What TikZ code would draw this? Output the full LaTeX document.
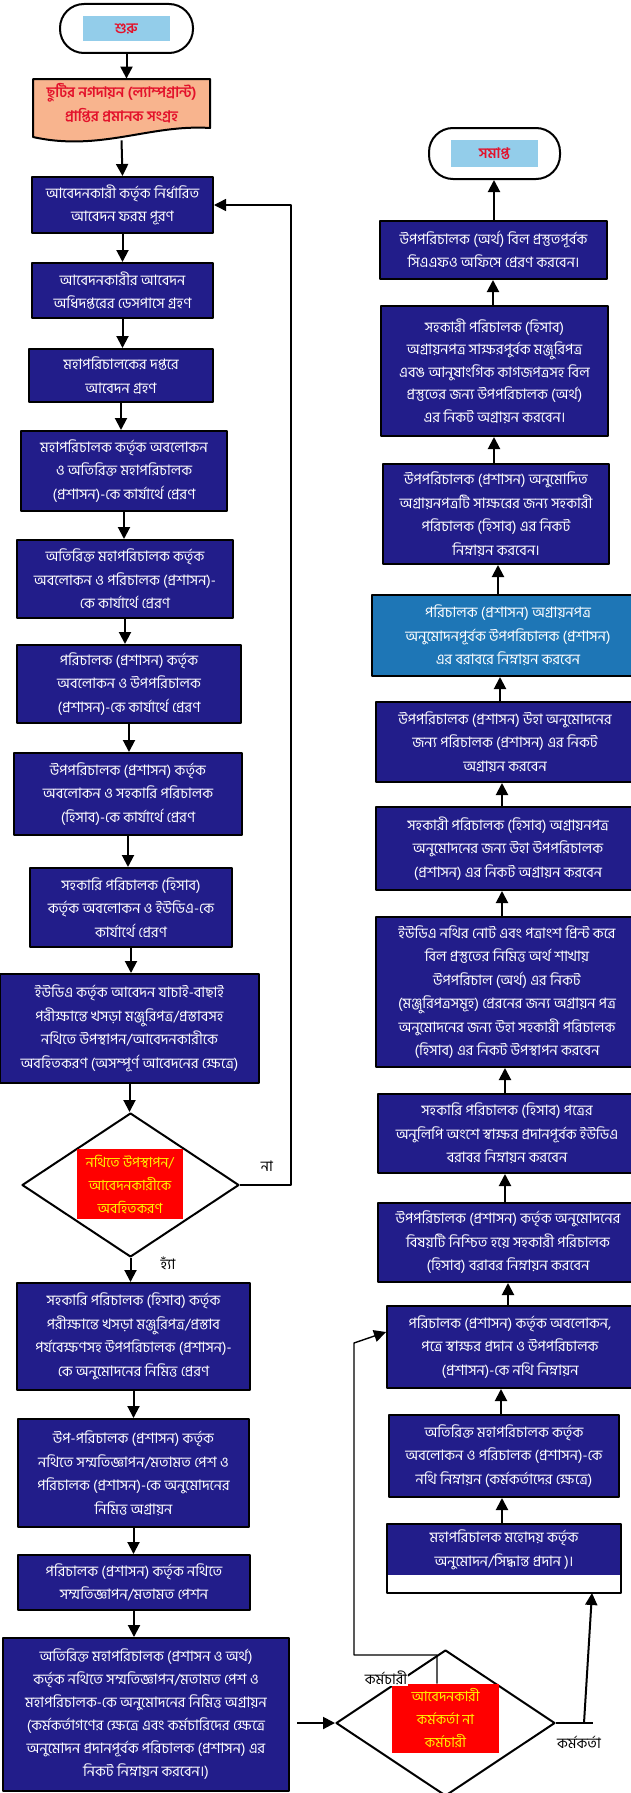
\documentclass[tikz,border=0pt]{standalone}
\usepackage{fontspec}
\newfontfamily\bn[Script=Bengali]{Hind Siliguri}
\usetikzlibrary{arrows.meta,shapes.geometric}
\definecolor{boxblue}{HTML}{221D8A}
\definecolor{steelbox}{HTML}{1E76B6}
\definecolor{skyfill}{HTML}{93CDEA}
\definecolor{docfill}{HTML}{F8B48E}
\definecolor{redtext}{HTML}{E3122B}
\definecolor{yeltext}{HTML}{FFF200}
\begin{document}
\begin{tikzpicture}[x=1pt,y=-1pt,line join=round,>={Triangle[length=12pt,width=12pt]},thick]
	\tikzset{every node/.style={font=\bn\fontsize{14.5}{23.5}\selectfont,align=center,inner sep=2pt},
		blk/.style={draw,line width=2pt,fill=boxblue,text=white},
		term/.style={draw,line width=2pt,rounded corners=24pt,fill=white},
		lbl/.style={fill=skyfill,text=redtext,font=\bn\bfseries\fontsize{14.5}{16}\selectfont},
		dec/.style={draw,line width=2pt,diamond,fill=white,inner sep=0pt},
		declbl/.style={fill=red,text=yeltext,inner sep=1pt,font=\bn\fontsize{14}{23}\selectfont},
		flow/.style={->,line width=2pt}}
	\useasboundingbox (0,0) rectangle (631,1793);
	\clip (0,0) rectangle (631,1793);
	\fill[white] (0,0) rectangle (631,1793);
	% left column
	\node[term,minimum width=133pt,minimum height=49pt] (start) at (126.5,28.5) {};
	\node[lbl,minimum width=87pt,minimum height=25pt] (startlbl) at (start) {শুরু};
	\draw[line width=2pt,fill=docfill] (33,79) -- (210,79) -- (210,128) .. controls (150,124) and (100,152) .. (33,137) -- cycle;
	\node[text=redtext,font=\bn\bfseries\fontsize{14.5}{23.5}\selectfont,minimum width=177pt,minimum height=48pt] (doc) at (121.5,103) {ছুটির নগদায়ন (ল্যাম্পগ্রান্ট)\\প্রাপ্তির প্রমানক সংগ্রহ};
	\node[blk,minimum width=181pt,minimum height=56pt] (box1) at (122.5,205) {আবেদনকারী কর্তৃক নির্ধারিত\\আবেদন ফরম পূরণ};
	\node[blk,minimum width=181pt,minimum height=55pt] (box2) at (122.5,290.5) {আবেদনকারীর আবেদন\\অধিদপ্তরের ডেসপাসে গ্রহণ};
	\node[blk,minimum width=184pt,minimum height=53pt] (box3) at (121,375.5) {মহাপরিচালকের দপ্তরে\\আবেদন গ্রহণ};
	\node[blk,minimum width=206pt,minimum height=80pt] (box4) at (124,471) {মহাপরিচালক কর্তৃক অবলোকন\\ও অতিরিক্ত মহাপরিচালক\\(প্রশাসন)-কে কার্যার্থে প্রেরণ};
	\node[blk,minimum width=216pt,minimum height=78pt] (box5) at (125,579) {অতিরিক্ত মহাপরিচালক কর্তৃক\\অবলোকন ও পরিচালক (প্রশাসন)-\\কে কার্যার্থে প্রেরণ};
	\node[blk,minimum width=224pt,minimum height=78pt] (box6) at (129,684) {পরিচালক (প্রশাসন) কর্তৃক\\অবলোকন ও উপপরিচালক\\(প্রশাসন)-কে কার্যার্থে প্রেরণ};
	\node[blk,minimum width=228pt,minimum height=82pt] (box7) at (128,794) {উপপরিচালক (প্রশাসন) কর্তৃক\\অবলোকন ও সহকারি পরিচালক\\(হিসাব)-কে কার্যার্থে প্রেরণ};
	\node[blk,minimum width=202pt,minimum height=79pt] (box8) at (131,907.5) {সহকারি পরিচালক (হিসাব)\\কর্তৃক অবলোকন ও ইউডিএ-কে\\কার্যার্থে প্রেরণ};
	\node[blk,minimum width=259pt,minimum height=109pt] (box9) at (129.5,1028.5) {ইউডিএ কর্তৃক আবেদন যাচাই-বাছাই\\পরীক্ষান্তে খসড়া মঞ্জুরিপত্র/প্রস্তাবসহ\\নথিতে উপস্থাপন/আবেদনকারীকে\\অবহিতকরণ (অসম্পূর্ণ আবেদনের ক্ষেত্রে)};
	\node[dec,minimum width=217pt,minimum height=144pt] (dec1) at (130.5,1185) {};
	\node[declbl,minimum width=106pt,minimum height=70pt] (dec1lbl) at (130,1184) {নথিতে উপস্থাপন/\\আবেদনকারীকে\\অবহিতকরণ};
	\node (no) at (267,1166) {না};
	\node (yes) at (168,1263) {হ্যাঁ};
	\node[blk,minimum width=233pt,minimum height=107pt] (box10) at (133.5,1336.5) {সহকারি পরিচালক (হিসাব) কর্তৃক\\পরীক্ষান্তে খসড়া মঞ্জুরিপত্র/প্রস্তাব\\পর্যবেক্ষণসহ উপপরিচালক (প্রশাসন)-\\কে অনুমোদনের নিমিত্ত  প্রেরণ};
	\node[blk,minimum width=231pt,minimum height=108pt] (box11) at (133.5,1473) {উপ-পরিচালক (প্রশাসন) কর্তৃক\\নথিতে সম্মতিজ্ঞাপন/মতামত পেশ ও\\পরিচালক (প্রশাসন)-কে অনুমোদনের\\নিমিত্ত অগ্রায়ন};
	\node[blk,minimum width=232pt,minimum height=55pt] (box12) at (134,1582.5) {পরিচালক (প্রশাসন) কর্তৃক নথিতে\\সম্মতিজ্ঞাপন/মতামত পেশন};
	\node[blk,minimum width=286pt,minimum height=153pt,font=\bn\fontsize{14.5}{23}\selectfont] (box13) at (146,1714.5) {অতিরিক্ত মহাপরিচালক (প্রশাসন ও অর্থ)\\কর্তৃক নথিতে সম্মতিজ্ঞাপন/মতামত পেশ ও\\মহাপরিচালক-কে অনুমোদনের নিমিত্ত অগ্রায়ন\\(কর্মকর্তাগণের ক্ষেত্রে এবং কর্মচারিদের ক্ষেত্রে\\অনুমোদন প্রদানপূর্বক পরিচালক (প্রশাসন) এর\\নিকট নিম্নায়ন করবেন।)};
	\draw[flow] (start.south) -- (start.south |- doc.north);
	\draw[flow] ([yshift=-13pt]doc.south) -- (box1.north);
	\foreach \a/\b in {box1/box2,box2/box3,box3/box4,box4/box5,box5/box6,box6/box7,box7/box8,box8/box9,box9/dec1,dec1/box10,box10/box11,box11/box12,box12/box13}
	\draw[flow] (\a.south) -- (\a.south |- \b.north);
	\draw[->,line width=1.4pt] (dec1.east) -- ++(51,0) |- (box1.east);
	% right column
	\node[term,minimum width=131pt,minimum height=51pt] (end) at (494.5,153.5) {};
	\node[lbl,minimum width=87pt,minimum height=27pt] (endlbl) at (end) {সমাপ্ত};
	\node[blk,minimum width=227pt,minimum height=58pt] (R1) at (493.5,250) {উপপরিচালক (অর্থ) বিল প্রস্তুতপূর্বক\\সিএএফও অফিসে প্রেরণ করবেন।};
	\node[blk,minimum width=227pt,minimum height=130pt,font=\bn\fontsize{14.5}{22.5}\selectfont] (R2) at (494.5,371) {সহকারী পরিচালক (হিসাব)\\অগ্রায়নপত্র সাক্ষরপুর্বক মঞ্জুরিপত্র\\এবঙ আনুষাংগিক কাগজপত্রসহ বিল\\প্রস্তুতের জন্য উপপরিচালক (অর্থ)\\এর নিকট অগ্রায়ন করবেন।};
	\node[blk,minimum width=226pt,minimum height=100pt] (R3) at (496,514) {উপপরিচালক (প্রশাসন) অনুমোদিত\\অগ্রায়নপত্রটি সাক্ষরের জন্য সহকারী\\পরিচালক (হিসাব) এর নিকট\\নিম্নায়ন করবেন।};
	\node[blk,fill=steelbox,anchor=west,minimum width=272pt,minimum height=81pt] (R4) at (371,635.5) {পরিচালক (প্রশাসন) অগ্রায়নপত্র\\অনুমোদনপূর্বক উপপরিচালক (প্রশাসন)\\এর বরাবরে নিম্নায়ন করবেন};
	\node[blk,anchor=west,minimum width=258pt,minimum height=80pt] (R5) at (375,742) {উপপরিচালক (প্রশাসন) উহা অনুমোদনের\\জন্য পরিচালক (প্রশাসন) এর নিকট\\অগ্রায়ন করবেন};
	\node[blk,anchor=west,minimum width=264pt,minimum height=83pt] (R6) at (375,848.5) {সহকারী পরিচালক (হিসাব) অগ্রায়নপত্র\\অনুমোদনের জন্য উহা উপপরিচালক\\(প্রশাসন) এর নিকট অগ্রায়ন করবেন};
	\node[blk,anchor=west,minimum width=262pt,minimum height=150pt] (R7) at (375,992) {ইউডিএ নথির নোট এবং পত্রাংশ প্রিন্ট করে\\বিল প্রস্তুতের নিমিত্ত অর্থ শাখায়\\উপপরিচাল (অর্থ) এর নিকট\\(মঞ্জুরিপত্রসমূহ) প্রেরনের জন্য অগ্রায়ন পত্র\\অনুমোদনের জন্য উহা সহকারী পরিচালক\\(হিসাব) এর নিকট উপস্থাপন করবেন};
	\node[blk,anchor=west,minimum width=258pt,minimum height=79pt] (R8) at (377,1133.5) {সহকারি পরিচালক (হিসাব) পত্রের\\অনুলিপি অংশে স্বাক্ষর প্রদানপূর্বক ইউডিএ\\বরাবর নিম্নায়ন করবেন};
	\node[blk,anchor=west,minimum width=260pt,minimum height=79pt] (R9) at (377,1242.5) {উপপরিচালক (প্রশাসন) কর্তৃক অনুমোদনের\\বিষয়টি নিশ্চিত হয়ে সহকারী পরিচালক\\(হিসাব)  বরাবর  নিম্নায়ন করবেন};
	\node[blk,anchor=west,minimum width=246pt,minimum height=82pt] (R10) at (386,1347) {পরিচালক (প্রশাসন) কর্তৃক অবলোকন,\\পত্রে স্বাক্ষর প্রদান ও উপপরিচালক\\(প্রশাসন)-কে নথি নিম্নায়ন};
	\node[blk,minimum width=230pt,minimum height=82pt] (R11) at (504,1456) {অতিরিক্ত মহাপরিচালক কর্তৃক\\অবলোকন ও পরিচালক (প্রশাসন)-কে\\নথি নিম্নায়ন (কর্মকর্তাদের ক্ষেত্রে)};
	\node[blk,draw=none,minimum width=232pt,minimum height=50pt] (R12) at (504,1550) {মহাপরিচালক মহোদয় কর্তৃক\\অনুমোদন/সিদ্ধান্ত প্রদান )।};
	\draw[line width=2pt] (R12.north west) rectangle ([yshift=-17pt]R12.south east);
	\foreach \a/\b/\x in {R1/end/494,R2/R1/493,R3/R2/494,R4/R3/498,R5/R4/500,R6/R5/502,R7/R6/502,R8/R7/505,R9/R8/505,R10/R9/508,R11/R10/501,R12/R11/502}
	\draw[flow] (\x,0 |- \a.north) -- (\x,0 |- \b.south);
	% second decision
	\node[dec,minimum width=219pt,minimum height=146pt] (dec2) at (445.5,1723) {};
	\node[declbl,minimum width=107pt,minimum height=69pt] (dec2lbl) at (445.5,1718.5) {আবেদনকারী\\কর্মকর্তা না\\কর্মচারী};
	\draw[flow] ([xshift=7pt]box13.east |- dec2.west) -- (dec2.west);
	\draw[->,line width=1.4pt] ([xshift=-8.5pt]dec2lbl.north) |- (354,1655) -- (354,1343) -- ([yshift=15pt]R10.west);
	\node[fill=white,inner sep=1pt] (staff) at (386,1678) {কর্মচারী};
	\draw[line width=1.4pt] (dec2.east) -- ++(37,0);
	\draw[flow] ([xshift=28pt]dec2.east) -- ([xshift=88pt,yshift=-17pt]R12.south);
	\node (officer) at (579,1742) {কর্মকর্তা};
\end{tikzpicture}
\end{document}
